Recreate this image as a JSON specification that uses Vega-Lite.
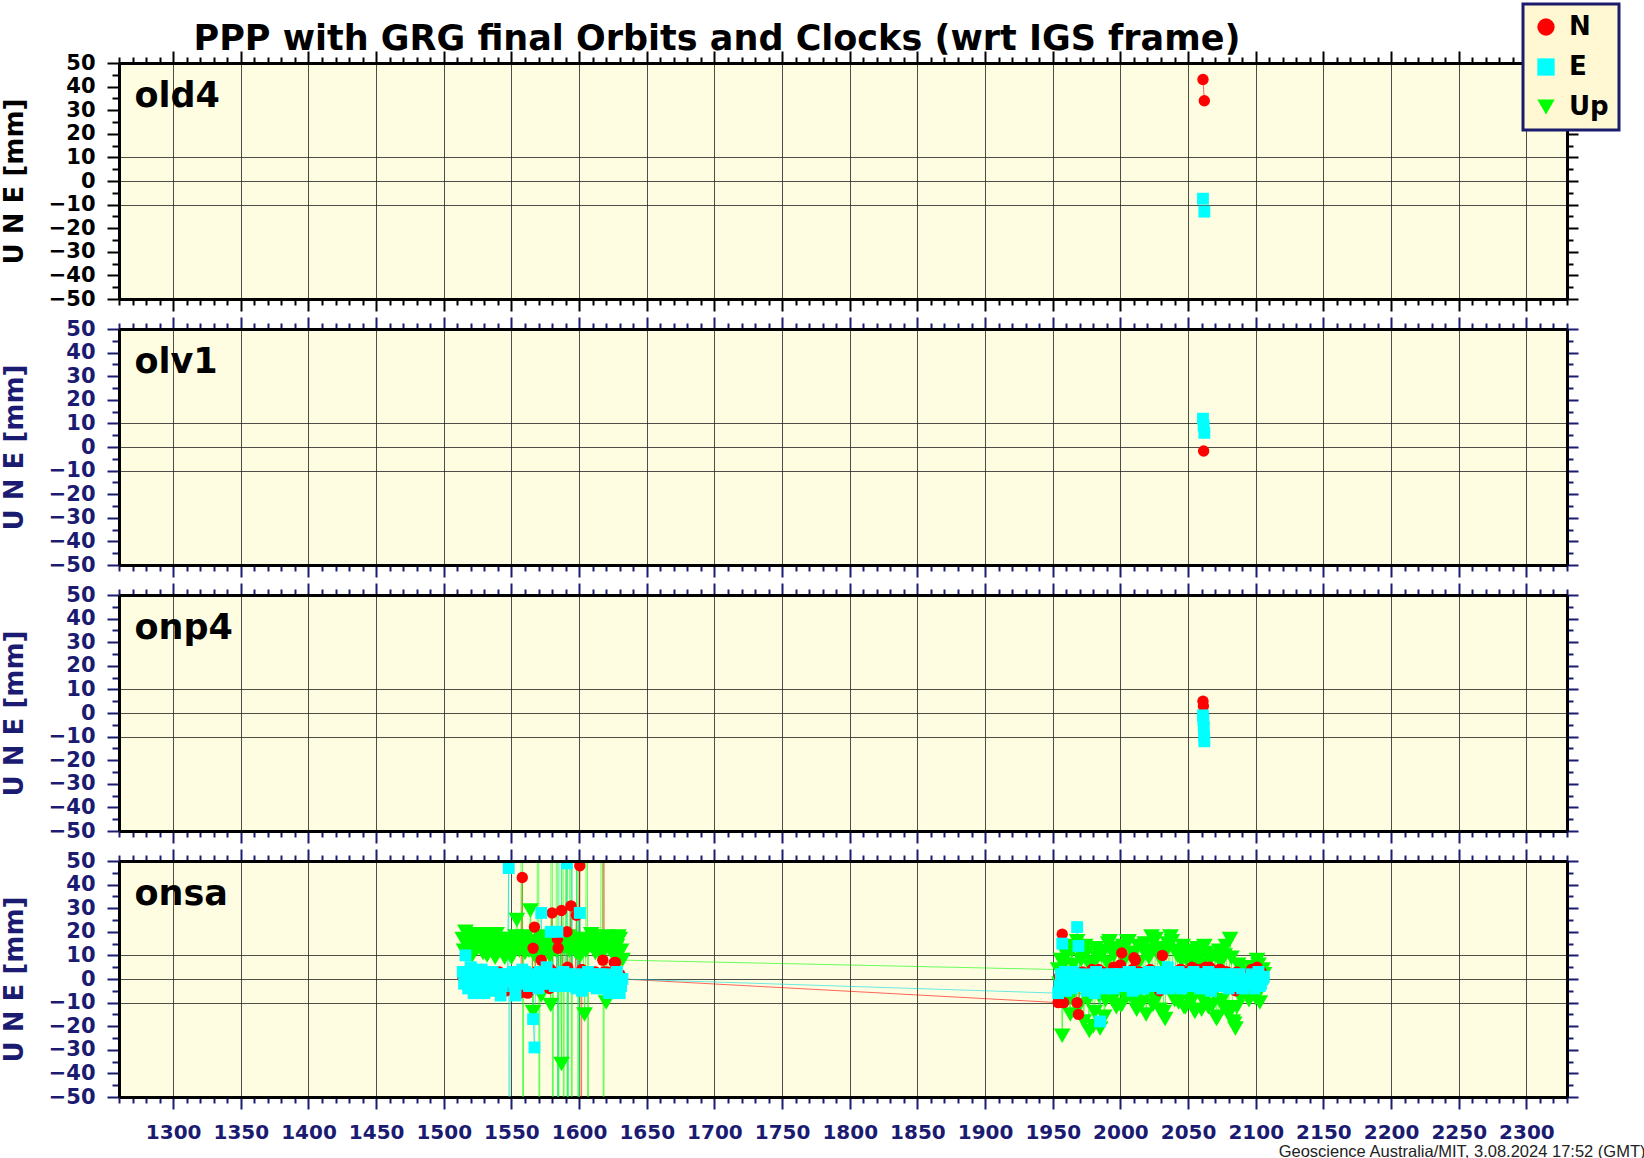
{
"$schema":"https://vega.github.io/schema/vega-lite/v6.json",
"background":"white",
"padding":{"left":0,"top":2,"right":0,"bottom":0},
"datasets":{"d":[
{"s":"old4","w":2061,"N":43,"E":-7.5},
{"s":"old4","w":2062,"N":34,"E":-13},
{"s":"olv1","w":2061,"E":12},
{"s":"olv1","w":2061.5,"N":-1.7,"E":9},
{"s":"olv1","w":2062,"E":6},
{"s":"onp4","w":2061,"N":5,"E":-1},
{"s":"onp4","w":2061.3,"N":3,"E":-3},
{"s":"onp4","w":2061.6,"E":-6},
{"s":"onp4","w":2061.8,"E":-10},
{"s":"onp4","w":2062,"E":-12},
{"s":"onsa","w":1514,"N":1,"E":3,"Up":17},
{"s":"onsa","w":1515,"N":0,"E":-2,"Up":12},
{"s":"onsa","w":1516,"N":-2,"E":10,"Up":20},
{"s":"onsa","w":1517,"N":2,"E":1,"Up":15},
{"s":"onsa","w":1518,"N":2,"E":-4,"Up":14},
{"s":"onsa","w":1519,"N":-3,"E":-1,"Up":19},
{"s":"onsa","w":1520,"N":-1,"E":5,"Up":18},
{"s":"onsa","w":1521,"N":1,"E":3,"Up":10},
{"s":"onsa","w":1522,"N":3,"E":-6,"Up":12},
{"s":"onsa","w":1523,"N":-1,"E":-2,"Up":16},
{"s":"onsa","w":1524,"N":-2,"E":1,"Up":16},
{"s":"onsa","w":1525,"N":3,"E":0,"Up":13},
{"s":"onsa","w":1526,"N":0,"E":-3,"Up":19},
{"s":"onsa","w":1527,"N":-2,"E":-4,"Up":17},
{"s":"onsa","w":1528,"N":4,"E":4,"Up":13},
{"s":"onsa","w":1529,"N":1,"E":2,"Up":11},
{"s":"onsa","w":1530,"N":-4,"E":-6,"Up":15},
{"s":"onsa","w":1531,"N":0,"E":-1,"Up":19},
{"s":"onsa","w":1532,"N":1,"E":0,"Up":10},
{"s":"onsa","w":1533,"N":2,"E":3,"Up":14},
{"s":"onsa","w":1534,"N":-2,"E":-2,"Up":18},
{"s":"onsa","w":1535,"N":-3,"E":-5,"Up":12},
{"s":"onsa","w":1536,"N":3,"E":3,"Up":13},
{"s":"onsa","w":1537,"N":1,"E":1,"Up":16},
{"s":"onsa","w":1538,"N":-1,"E":-4,"Up":9},
{"s":"onsa","w":1539,"N":-2,"E":-2,"Up":19},
{"s":"onsa","w":1540,"N":2,"E":1,"Up":17},
{"s":"onsa","w":1541,"N":3,"E":2,"Up":12},
{"s":"onsa","w":1542,"N":-3,"E":-7,"Up":14},
{"s":"onsa","w":1543,"N":-1,"E":-3,"Up":15},
{"s":"onsa","w":1544,"N":0,"E":2,"Up":11},
{"s":"onsa","w":1545,"N":2,"E":0,"Up":9},
{"s":"onsa","w":1546,"N":-5,"E":-1,"Up":16},
{"s":"onsa","w":1547,"N":-1,"E":2,"Up":17},
{"s":"onsa","w":1548,"N":1,"E":47,"Up":12},
{"s":"onsa","w":1548.5,"N":0,"E":-300,"Up":14},
{"s":"onsa","w":1549,"N":1,"E":-1,"Up":16},
{"s":"onsa","w":1550,"N":-2,"E":2,"Up":9},
{"s":"onsa","w":1551,"N":-3,"E":3,"Up":12},
{"s":"onsa","w":1552,"N":2,"E":-3,"Up":15},
{"s":"onsa","w":1553,"N":0,"E":-7,"Up":18},
{"s":"onsa","w":1554,"N":-1,"E":1,"Up":25},
{"s":"onsa","w":1555,"N":2,"E":0,"Up":14},
{"s":"onsa","w":1556,"N":-6,"E":-2,"Up":12},
{"s":"onsa","w":1557,"N":-1,"E":2,"Up":17},
{"s":"onsa","w":1558,"N":43,"E":4,"Up":300},
{"s":"onsa","w":1558.5,"N":-4,"E":-1,"Up":-300},
{"s":"onsa","w":1559,"N":1,"E":-2,"Up":13},
{"s":"onsa","w":1560,"N":2,"E":3,"Up":11},
{"s":"onsa","w":1561,"N":-2,"E":1,"Up":18},
{"s":"onsa","w":1562,"N":-6,"E":-1,"Up":15},
{"s":"onsa","w":1563,"N":2,"E":-3,"Up":12},
{"s":"onsa","w":1564,"N":1,"E":2,"Up":29},
{"s":"onsa","w":1565,"N":-1,"E":0,"Up":16},
{"s":"onsa","w":1566,"N":13,"E":-17,"Up":-14},
{"s":"onsa","w":1567,"N":22,"E":-29,"Up":10},
{"s":"onsa","w":1568,"N":3,"E":2,"Up":12},
{"s":"onsa","w":1569,"N":0,"E":-1,"Up":15},
{"s":"onsa","w":1570,"N":-1,"E":-4,"Up":300},
{"s":"onsa","w":1570.5,"N":0,"E":1,"Up":-300},
{"s":"onsa","w":1571,"N":2,"E":3,"Up":18},
{"s":"onsa","w":1572,"N":8,"E":28,"Up":-7},
{"s":"onsa","w":1573,"N":-3,"E":-2,"Up":12},
{"s":"onsa","w":1574,"N":-2,"E":1,"Up":13},
{"s":"onsa","w":1575,"N":1,"E":0,"Up":17},
{"s":"onsa","w":1576,"N":2,"E":5,"Up":16},
{"s":"onsa","w":1577,"N":-1,"E":2,"Up":14},
{"s":"onsa","w":1578,"N":-4,"E":-2,"Up":10},
{"s":"onsa","w":1579,"N":4,"E":20,"Up":-11},
{"s":"onsa","w":1580,"N":28,"E":0,"Up":300},
{"s":"onsa","w":1580.5,"N":-3,"E":2,"Up":-300},
{"s":"onsa","w":1581,"N":2,"E":-1,"Up":16},
{"s":"onsa","w":1582,"N":1,"E":-3,"Up":14},
{"s":"onsa","w":1583,"N":-2,"E":1,"Up":12},
{"s":"onsa","w":1584,"N":17,"E":20,"Up":300},
{"s":"onsa","w":1584.5,"N":13,"E":-300,"Up":-300},
{"s":"onsa","w":1585,"N":1,"E":2,"Up":16},
{"s":"onsa","w":1586,"N":2,"E":300,"Up":18},
{"s":"onsa","w":1587,"N":29,"E":1,"Up":-36},
{"s":"onsa","w":1588,"N":-1,"E":-2,"Up":300},
{"s":"onsa","w":1588.5,"N":3,"E":3,"Up":-300},
{"s":"onsa","w":1589,"N":2,"E":0,"Up":13},
{"s":"onsa","w":1590,"N":0,"E":-3,"Up":15},
{"s":"onsa","w":1591,"N":20,"E":49,"Up":300},
{"s":"onsa","w":1591.5,"N":5,"E":-300,"Up":-300},
{"s":"onsa","w":1592,"N":-1,"E":2,"Up":18},
{"s":"onsa","w":1593,"N":2,"E":1,"Up":12},
{"s":"onsa","w":1594,"N":31,"E":-2,"Up":300},
{"s":"onsa","w":1594.5,"N":-3,"E":300,"Up":-300},
{"s":"onsa","w":1595,"N":2,"E":-1,"Up":15},
{"s":"onsa","w":1596,"N":0,"E":2,"Up":17},
{"s":"onsa","w":1597,"N":-1,"E":1,"Up":12},
{"s":"onsa","w":1598,"N":27,"E":-4,"Up":11},
{"s":"onsa","w":1599,"N":1,"E":300,"Up":300},
{"s":"onsa","w":1599.5,"N":-2,"E":-300,"Up":-300},
{"s":"onsa","w":1600.5,"N":48,"E":28,"Up":13},
{"s":"onsa","w":1601,"N":-300,"E":0,"Up":10},
{"s":"onsa","w":1602,"N":4,"E":-5,"Up":16},
{"s":"onsa","w":1603,"N":1,"E":2,"Up":17},
{"s":"onsa","w":1604,"N":-1,"E":1,"Up":-15},
{"s":"onsa","w":1605,"N":-2,"E":-3,"Up":12},
{"s":"onsa","w":1606,"N":2,"E":-2,"Up":300},
{"s":"onsa","w":1606.5,"N":-3,"E":3,"Up":-300},
{"s":"onsa","w":1607,"N":0,"E":1,"Up":16},
{"s":"onsa","w":1608,"N":1,"E":-1,"Up":14},
{"s":"onsa","w":1609,"N":3,"E":-2,"Up":19},
{"s":"onsa","w":1610,"N":-2,"E":2,"Up":18},
{"s":"onsa","w":1611,"N":-1,"E":1,"Up":13},
{"s":"onsa","w":1612,"N":3,"E":-3,"Up":11},
{"s":"onsa","w":1613,"N":2,"E":-4,"Up":16},
{"s":"onsa","w":1614,"N":-1,"E":0,"Up":15},
{"s":"onsa","w":1615,"N":0,"E":2,"Up":11},
{"s":"onsa","w":1616,"N":2,"E":2,"Up":17},
{"s":"onsa","w":1617.5,"N":8,"E":-2,"Up":300},
{"s":"onsa","w":1618,"N":300,"E":1,"Up":-300},
{"s":"onsa","w":1618.5,"N":3,"E":-4,"Up":12},
{"s":"onsa","w":1619,"N":-1,"E":-2,"Up":15},
{"s":"onsa","w":1620,"N":-2,"E":1,"Up":-10},
{"s":"onsa","w":1621,"N":3,"E":0,"Up":18},
{"s":"onsa","w":1622,"N":2,"E":-6,"Up":14},
{"s":"onsa","w":1623,"N":-2,"E":-3,"Up":12},
{"s":"onsa","w":1624,"N":-1,"E":2,"Up":16},
{"s":"onsa","w":1625,"N":1,"E":1,"Up":16},
{"s":"onsa","w":1626,"N":7,"E":-1,"Up":10},
{"s":"onsa","w":1627,"N":7,"E":-2,"Up":13},
{"s":"onsa","w":1628,"N":-3,"E":3,"Up":14},
{"s":"onsa","w":1629,"N":-1,"E":0,"Up":18},
{"s":"onsa","w":1630,"N":2,"E":-6,"Up":17},
{"s":"onsa","w":1631,"N":1,"E":-3,"Up":12},
{"s":"onsa","w":1632,"N":0,"E":0,"Up":8},
{"s":"onsa","w":1954,"N":-10,"E":-6,"Up":4},
{"s":"onsa","w":1955,"N":1,"E":-3,"Up":-2},
{"s":"onsa","w":1956,"N":0,"E":2,"Up":8},
{"s":"onsa","w":1957,"N":19,"E":15,"Up":-24},
{"s":"onsa","w":1958,"N":-10,"E":-2,"Up":6},
{"s":"onsa","w":1959,"N":1,"E":3,"Up":-6},
{"s":"onsa","w":1960,"N":2,"E":-5,"Up":10},
{"s":"onsa","w":1961,"N":-3,"E":-2,"Up":14},
{"s":"onsa","w":1962,"N":-1,"E":1,"Up":-8},
{"s":"onsa","w":1963,"N":2,"E":0,"Up":-15},
{"s":"onsa","w":1964,"N":3,"E":-4,"Up":12},
{"s":"onsa","w":1965,"N":-1,"E":3,"Up":6},
{"s":"onsa","w":1966,"N":-2,"E":2,"Up":-5},
{"s":"onsa","w":1967,"N":3,"E":-3,"Up":-11},
{"s":"onsa","w":1968,"N":-10,"E":22,"Up":16},
{"s":"onsa","w":1969,"N":-15,"E":14,"Up":-12},
{"s":"onsa","w":1970,"N":-2,"E":1,"Up":12},
{"s":"onsa","w":1971,"N":1,"E":-3,"Up":8},
{"s":"onsa","w":1972,"N":3,"E":-2,"Up":-4},
{"s":"onsa","w":1973,"N":-3,"E":0,"Up":-18},
{"s":"onsa","w":1974,"N":-1,"E":2,"Up":14},
{"s":"onsa","w":1975,"N":2,"E":-5,"Up":11},
{"s":"onsa","w":1976,"N":2,"E":-4,"Up":-9},
{"s":"onsa","w":1977,"N":-1,"E":1,"Up":-22},
{"s":"onsa","w":1978,"N":-3,"E":1,"Up":5},
{"s":"onsa","w":1979,"N":4,"E":-2,"Up":7},
{"s":"onsa","w":1980,"N":1,"E":-2,"Up":-20},
{"s":"onsa","w":1981,"N":-6,"E":-6,"Up":-14},
{"s":"onsa","w":1982,"N":-2,"E":3,"Up":13},
{"s":"onsa","w":1983,"N":1,"E":0,"Up":9},
{"s":"onsa","w":1984,"N":4,"E":-1,"Up":-7},
{"s":"onsa","w":1985,"N":-2,"E":-18,"Up":-21},
{"s":"onsa","w":1986,"N":0,"E":2,"Up":10},
{"s":"onsa","w":1987,"N":3,"E":-3,"Up":12},
{"s":"onsa","w":1988,"N":-3,"E":-4,"Up":-16},
{"s":"onsa","w":1989,"N":-4,"E":1,"Up":-9},
{"s":"onsa","w":1990,"N":2,"E":1,"Up":7},
{"s":"onsa","w":1991,"N":2,"E":-2,"Up":15},
{"s":"onsa","w":1992,"N":-1,"E":-2,"Up":16},
{"s":"onsa","w":1993,"N":-1,"E":2,"Up":-6},
{"s":"onsa","w":1994,"N":3,"E":2,"Up":-9},
{"s":"onsa","w":1995,"N":5,"E":-4,"Up":10},
{"s":"onsa","w":1996,"N":-2,"E":-3,"Up":12},
{"s":"onsa","w":1997,"N":-2,"E":0,"Up":-12},
{"s":"onsa","w":1998,"N":1,"E":0,"Up":-4},
{"s":"onsa","w":1999,"N":3,"E":2,"Up":13},
{"s":"onsa","w":2000,"N":6,"E":2,"Up":-11},
{"s":"onsa","w":2001,"N":11,"E":-3,"Up":-11},
{"s":"onsa","w":2002,"N":-1,"E":-2,"Up":14},
{"s":"onsa","w":2003,"N":-3,"E":1,"Up":8},
{"s":"onsa","w":2004,"N":2,"E":1,"Up":-8},
{"s":"onsa","w":2005,"N":2,"E":-2,"Up":16},
{"s":"onsa","w":2006,"N":-3,"E":3,"Up":16},
{"s":"onsa","w":2007,"N":-1,"E":3,"Up":-7},
{"s":"onsa","w":2008,"N":1,"E":-3,"Up":-3},
{"s":"onsa","w":2009,"N":4,"E":-5,"Up":11},
{"s":"onsa","w":2010,"N":9,"E":0,"Up":11},
{"s":"onsa","w":2011,"N":8,"E":1,"Up":-10},
{"s":"onsa","w":2012,"N":-2,"E":2,"Up":-13},
{"s":"onsa","w":2013,"N":-2,"E":-2,"Up":14},
{"s":"onsa","w":2014,"N":3,"E":-1,"Up":7},
{"s":"onsa","w":2015,"N":1,"E":2,"Up":-5},
{"s":"onsa","w":2016,"N":-1,"E":-4,"Up":-10},
{"s":"onsa","w":2017,"N":-4,"E":-4,"Up":12},
{"s":"onsa","w":2018,"N":2,"E":2,"Up":15},
{"s":"onsa","w":2019,"N":2,"E":0,"Up":-15},
{"s":"onsa","w":2020,"N":-2,"E":-1,"Up":-5},
{"s":"onsa","w":2021,"N":-1,"E":3,"Up":9},
{"s":"onsa","w":2022,"N":4,"E":1,"Up":12},
{"s":"onsa","w":2023,"N":3,"E":-3,"Up":18},
{"s":"onsa","w":2024,"N":0,"E":-3,"Up":-11},
{"s":"onsa","w":2025,"N":-2,"E":1,"Up":-8},
{"s":"onsa","w":2026,"N":-3,"E":2,"Up":17},
{"s":"onsa","w":2027,"N":2,"E":-2,"Up":13},
{"s":"onsa","w":2028,"N":2,"E":-2,"Up":-7},
{"s":"onsa","w":2029,"N":-5,"E":2,"Up":-13},
{"s":"onsa","w":2030,"N":1,"E":3,"Up":8},
{"s":"onsa","w":2031,"N":10,"E":-4,"Up":10},
{"s":"onsa","w":2032,"N":-2,"E":-1,"Up":-14},
{"s":"onsa","w":2033,"N":1,"E":0,"Up":-17},
{"s":"onsa","w":2034,"N":3,"E":2,"Up":12},
{"s":"onsa","w":2035,"N":-2,"E":5,"Up":15},
{"s":"onsa","w":2036,"N":-1,"E":-4,"Up":-4},
{"s":"onsa","w":2037,"N":3,"E":-3,"Up":18},
{"s":"onsa","w":2038,"N":2,"E":1,"Up":16},
{"s":"onsa","w":2039,"N":-1,"E":1,"Up":-6},
{"s":"onsa","w":2040,"N":-3,"E":-2,"Up":-9},
{"s":"onsa","w":2041,"N":2,"E":-2,"Up":12},
{"s":"onsa","w":2042,"N":1,"E":3,"Up":10},
{"s":"onsa","w":2043,"N":-3,"E":3,"Up":-10},
{"s":"onsa","w":2044,"N":4,"E":-1,"Up":-6},
{"s":"onsa","w":2045,"N":4,"E":-4,"Up":8},
{"s":"onsa","w":2046,"N":-2,"E":2,"Up":14},
{"s":"onsa","w":2047,"N":0,"E":1,"Up":-12},
{"s":"onsa","w":2048,"N":2,"E":-3,"Up":-12},
{"s":"onsa","w":2049,"N":3,"E":-1,"Up":11},
{"s":"onsa","w":2050,"N":0,"E":1,"Up":7},
{"s":"onsa","w":2051,"N":-2,"E":2,"Up":-7},
{"s":"onsa","w":2052,"N":3,"E":-2,"Up":-10},
{"s":"onsa","w":2053,"N":5,"E":-3,"Up":9},
{"s":"onsa","w":2054,"N":-2,"E":3,"Up":12},
{"s":"onsa","w":2055,"N":1,"E":0,"Up":-14},
{"s":"onsa","w":2056,"N":4,"E":-1,"Up":-5},
{"s":"onsa","w":2057,"N":-3,"E":2,"Up":13},
{"s":"onsa","w":2058,"N":1,"E":2,"Up":9},
{"s":"onsa","w":2059,"N":4,"E":-4,"Up":6},
{"s":"onsa","w":2060,"N":-2,"E":-3,"Up":-13},
{"s":"onsa","w":2061,"N":0,"E":1,"Up":-9},
{"s":"onsa","w":2062,"N":3,"E":0,"Up":14},
{"s":"onsa","w":2063,"N":5,"E":-2,"Up":11},
{"s":"onsa","w":2064,"N":0,"E":2,"Up":-7},
{"s":"onsa","w":2065,"N":-1,"E":3,"Up":-12},
{"s":"onsa","w":2066,"N":5,"E":-2,"Up":8},
{"s":"onsa","w":2067,"N":4,"E":-5,"Up":9},
{"s":"onsa","w":2068,"N":-2,"E":1,"Up":-11},
{"s":"onsa","w":2069,"N":2,"E":0,"Up":-6},
{"s":"onsa","w":2070,"N":3,"E":-3,"Up":10},
{"s":"onsa","w":2071,"N":-3,"E":2,"Up":-17},
{"s":"onsa","w":2072,"N":1,"E":2,"Up":-16},
{"s":"onsa","w":2073,"N":4,"E":-3,"Up":12},
{"s":"onsa","w":2074,"N":4,"E":-1,"Up":7},
{"s":"onsa","w":2075,"N":1,"E":1,"Up":-9},
{"s":"onsa","w":2076,"N":-1,"E":0,"Up":-12},
{"s":"onsa","w":2077,"N":-2,"E":-2,"Up":10},
{"s":"onsa","w":2078,"N":3,"E":2,"Up":14},
{"s":"onsa","w":2079,"N":3,"E":2,"Up":-13},
{"s":"onsa","w":2080,"N":0,"E":-4,"Up":-15},
{"s":"onsa","w":2081,"N":-1,"E":-3,"Up":17},
{"s":"onsa","w":2082,"N":2,"E":1,"Up":9},
{"s":"onsa","w":2083,"N":2,"E":0,"Up":-18},
{"s":"onsa","w":2084,"N":-2,"E":-2,"Up":-19},
{"s":"onsa","w":2085,"N":-5,"E":2,"Up":-21},
{"s":"onsa","w":2086,"N":3,"E":0,"Up":-12},
{"s":"onsa","w":2087,"N":1,"E":-3,"Up":6},
{"s":"onsa","w":2088,"N":-1,"E":2,"Up":5},
{"s":"onsa","w":2089,"N":-2,"E":0,"Up":-8},
{"s":"onsa","w":2090,"N":0,"E":-4,"Up":3},
{"s":"onsa","w":2095,"N":2,"E":-1,"Up":-9},
{"s":"onsa","w":2096,"N":3,"E":-2,"Up":2},
{"s":"onsa","w":2097,"N":4,"E":2,"Up":5},
{"s":"onsa","w":2098,"N":-2,"E":1,"Up":-3},
{"s":"onsa","w":2099,"N":0,"E":-4,"Up":-6},
{"s":"onsa","w":2100,"N":4,"E":-1,"Up":-8},
{"s":"onsa","w":2101,"N":5,"E":1,"Up":8},
{"s":"onsa","w":2102,"N":1,"E":3,"Up":6},
{"s":"onsa","w":2103,"N":-1,"E":-3,"Up":-10},
{"s":"onsa","w":2104,"N":3,"E":-2,"Up":-4},
{"s":"onsa","w":2105,"N":2,"E":0,"Up":4},
{"s":"onsa","w":2106,"N":0,"E":1,"Up":2}
]},
"spacing":30,
"bounds":"flush",
"vconcat":[
{"width":1448,"height":236,
 "data":{"name":"d"},
 "transform":[{"filter":"datum.s === 'old4'"},{"fold":["N","E","Up"],"as":["comp","val"]},{"filter":"isValid(datum.val)"}],
 "resolve":{"axis":{"x":"independent","y":"independent"}},
 "layer":[
  {"mark":{"type":"line","clip":true,"strokeWidth":1,"opacity":0.6},
   "encoding":{
    "x":{"field":"w","type":"quantitative","scale":{"domain":[1260,2330],"nice":false,"zero":false},
     "axis":{"orient":"bottom","values":[1260,1270,1280,1290,1300,1310,1320,1330,1340,1350,1360,1370,1380,1390,1400,1410,1420,1430,1440,1450,1460,1470,1480,1490,1500,1510,1520,1530,1540,1550,1560,1570,1580,1590,1600,1610,1620,1630,1640,1650,1660,1670,1680,1690,1700,1710,1720,1730,1740,1750,1760,1770,1780,1790,1800,1810,1820,1830,1840,1850,1860,1870,1880,1890,1900,1910,1920,1930,1940,1950,1960,1970,1980,1990,2000,2010,2020,2030,2040,2050,2060,2070,2080,2090,2100,2110,2120,2130,2140,2150,2160,2170,2180,2190,2200,2210,2220,2230,2240,2250,2260,2270,2280,2290,2300,2310,2320,2330],
      "title":null,"labels":false,"tickColor":"black",
      "tickSize":{"condition":{"test":"datum.value % 50 === 0","value":12},"value":6},
      "grid":true,"gridOpacity":{"condition":{"test":"datum.value % 50 === 0","value":0.8},"value":0},
      "domain":true}},
    "y":{"field":"val","type":"quantitative","scale":{"domain":[-50,50],"nice":false},
     "axis":{"orient":"left","values":[-50,-45,-40,-35,-30,-25,-20,-15,-10,-5,0,5,10,15,20,25,30,35,40,45,50],
      "title":"U N E [mm]","titleX":-105,"titleBaseline":"middle","titleColor":"black",
      "labelExpr":"datum.value % 10 === 0 ? datum.label : ''","labelColor":"black","labelPadding":12,
      "tickColor":"black","tickSize":{"condition":{"test":"datum.value % 10 === 0","value":12},"value":7},
      "grid":true,"gridOpacity":{"condition":{"test":"abs(datum.value) <= 10 && datum.value % 10 === 0","value":0.8},"value":0},
      "domain":true}},
    "stroke":{"field":"comp","type":"nominal","scale":{"domain":["Up","N","E"],"range":["#00ff00","#ff0000","#00dddd"]},"legend":null}
   }},
  {"mark":{"type":"point","filled":true,"clip":true,"opacity":1},
   "encoding":{
    "x":{"field":"w","type":"quantitative",
     "axis":{"orient":"top","values":[1260,1270,1280,1290,1300,1310,1320,1330,1340,1350,1360,1370,1380,1390,1400,1410,1420,1430,1440,1450,1460,1470,1480,1490,1500,1510,1520,1530,1540,1550,1560,1570,1580,1590,1600,1610,1620,1630,1640,1650,1660,1670,1680,1690,1700,1710,1720,1730,1740,1750,1760,1770,1780,1790,1800,1810,1820,1830,1840,1850,1860,1870,1880,1890,1900,1910,1920,1930,1940,1950,1960,1970,1980,1990,2000,2010,2020,2030,2040,2050,2060,2070,2080,2090,2100,2110,2120,2130,2140,2150,2160,2170,2180,2190,2200,2210,2220,2230,2240,2250,2260,2270,2280,2290,2300,2310,2320,2330],
      "title":"PPP with GRG final Orbits and Clocks (wrt IGS frame)","titleX":74,"titleY":-14,"titleAlign":"left","titleAngle":0,"titleBaseline":"alphabetic","titleFontSize":35,"titleColor":"black",
      "labels":false,"grid":false,"tickColor":"black",
      "tickSize":{"condition":{"test":"datum.value % 50 === 0","value":12},"value":6},"domain":true,"zindex":1}},
    "y":{"field":"val","type":"quantitative",
     "axis":{"orient":"right","values":[-50,-45,-40,-35,-30,-25,-20,-15,-10,-5,0,5,10,15,20,25,30,35,40,45,50],
      "title":"old4","titleX":-1433,"titleY":43,"titleAngle":0,"titleAlign":"left","titleBaseline":"alphabetic","titleFontSize":35,"titleColor":"black",
      "labels":false,"grid":false,"tickColor":"black",
      "tickSize":{"condition":{"test":"datum.value % 10 === 0","value":11},"value":6},"domain":true,"zindex":1}},
    "color":{"field":"comp","type":"nominal","scale":{"domain":["N","E","Up"],"range":["#ff0000","#00ffff","#00ff00"]},"legend":{"title":null,"orient":"none","legendX":1404,"legendY":-59,"zindex":3}},
    "shape":{"field":"comp","type":"nominal","scale":{"domain":["N","E","Up"],"range":["circle","square","triangle-down"]},"legend":{"title":null,"orient":"none","legendX":1404,"legendY":-59,"zindex":3}},
    "size":{"field":"comp","type":"nominal","scale":{"type":"ordinal","domain":["Up","E","N"],"range":[280,140,130]},"legend":null},
    "order":{"field":"comp","sort":"descending"}
   }}
 ]},
{"width":1448,"height":236,
 "data":{"name":"d"},
 "transform":[{"filter":"datum.s === 'olv1'"},{"fold":["N","E","Up"],"as":["comp","val"]},{"filter":"isValid(datum.val)"}],
 "resolve":{"axis":{"x":"independent","y":"independent"}},
 "layer":[
  {"mark":{"type":"line","clip":true,"strokeWidth":1,"opacity":0.6},
   "encoding":{
    "x":{"field":"w","type":"quantitative","scale":{"domain":[1260,2330],"nice":false,"zero":false},
     "axis":{"orient":"bottom","values":[1260,1270,1280,1290,1300,1310,1320,1330,1340,1350,1360,1370,1380,1390,1400,1410,1420,1430,1440,1450,1460,1470,1480,1490,1500,1510,1520,1530,1540,1550,1560,1570,1580,1590,1600,1610,1620,1630,1640,1650,1660,1670,1680,1690,1700,1710,1720,1730,1740,1750,1760,1770,1780,1790,1800,1810,1820,1830,1840,1850,1860,1870,1880,1890,1900,1910,1920,1930,1940,1950,1960,1970,1980,1990,2000,2010,2020,2030,2040,2050,2060,2070,2080,2090,2100,2110,2120,2130,2140,2150,2160,2170,2180,2190,2200,2210,2220,2230,2240,2250,2260,2270,2280,2290,2300,2310,2320,2330],
      "title":null,"labels":false,"tickColor":"#1b1b72",
      "tickSize":{"condition":{"test":"datum.value % 50 === 0","value":12},"value":6},
      "grid":true,"gridOpacity":{"condition":{"test":"datum.value % 50 === 0","value":0.8},"value":0},
      "domain":true}},
    "y":{"field":"val","type":"quantitative","scale":{"domain":[-50,50],"nice":false},
     "axis":{"orient":"left","values":[-50,-45,-40,-35,-30,-25,-20,-15,-10,-5,0,5,10,15,20,25,30,35,40,45,50],
      "title":"U N E [mm]","titleX":-105,"titleBaseline":"middle","titleColor":"#1b1b72",
      "labelExpr":"datum.value % 10 === 0 ? datum.label : ''","labelColor":"#1b1b72","labelPadding":12,
      "tickColor":"#1b1b72","tickSize":{"condition":{"test":"datum.value % 10 === 0","value":12},"value":7},
      "grid":true,"gridOpacity":{"condition":{"test":"abs(datum.value) <= 10 && datum.value % 10 === 0","value":0.8},"value":0},
      "domain":true}},
    "stroke":{"field":"comp","type":"nominal","scale":{"domain":["Up","N","E"],"range":["#00ff00","#ff0000","#00dddd"]},"legend":null}
   }},
  {"mark":{"type":"point","filled":true,"clip":true,"opacity":1},
   "encoding":{
    "x":{"field":"w","type":"quantitative",
     "axis":{"orient":"top","values":[1260,1270,1280,1290,1300,1310,1320,1330,1340,1350,1360,1370,1380,1390,1400,1410,1420,1430,1440,1450,1460,1470,1480,1490,1500,1510,1520,1530,1540,1550,1560,1570,1580,1590,1600,1610,1620,1630,1640,1650,1660,1670,1680,1690,1700,1710,1720,1730,1740,1750,1760,1770,1780,1790,1800,1810,1820,1830,1840,1850,1860,1870,1880,1890,1900,1910,1920,1930,1940,1950,1960,1970,1980,1990,2000,2010,2020,2030,2040,2050,2060,2070,2080,2090,2100,2110,2120,2130,2140,2150,2160,2170,2180,2190,2200,2210,2220,2230,2240,2250,2260,2270,2280,2290,2300,2310,2320,2330],
      "title":null,"labels":false,"grid":false,"tickColor":"#1b1b72",
      "tickSize":{"condition":{"test":"datum.value % 50 === 0","value":12},"value":6},"domain":true,"zindex":1}},
    "y":{"field":"val","type":"quantitative",
     "axis":{"orient":"right","values":[-50,-45,-40,-35,-30,-25,-20,-15,-10,-5,0,5,10,15,20,25,30,35,40,45,50],
      "title":"olv1","titleX":-1433,"titleY":43,"titleAngle":0,"titleAlign":"left","titleBaseline":"alphabetic","titleFontSize":35,"titleColor":"black",
      "labels":false,"grid":false,"tickColor":"#1b1b72",
      "tickSize":{"condition":{"test":"datum.value % 10 === 0","value":11},"value":6},"domain":true,"zindex":1}},
    "color":{"field":"comp","type":"nominal","scale":{"domain":["N","E","Up"],"range":["#ff0000","#00ffff","#00ff00"]},"legend":{"title":null,"orient":"none","legendX":1404,"legendY":-59,"zindex":3}},
    "shape":{"field":"comp","type":"nominal","scale":{"domain":["N","E","Up"],"range":["circle","square","triangle-down"]},"legend":{"title":null,"orient":"none","legendX":1404,"legendY":-59,"zindex":3}},
    "size":{"field":"comp","type":"nominal","scale":{"type":"ordinal","domain":["Up","E","N"],"range":[280,140,130]},"legend":null},
    "order":{"field":"comp","sort":"descending"}
   }}
 ]},
{"width":1448,"height":236,
 "data":{"name":"d"},
 "transform":[{"filter":"datum.s === 'onp4'"},{"fold":["N","E","Up"],"as":["comp","val"]},{"filter":"isValid(datum.val)"}],
 "resolve":{"axis":{"x":"independent","y":"independent"}},
 "layer":[
  {"mark":{"type":"line","clip":true,"strokeWidth":1,"opacity":0.6},
   "encoding":{
    "x":{"field":"w","type":"quantitative","scale":{"domain":[1260,2330],"nice":false,"zero":false},
     "axis":{"orient":"bottom","values":[1260,1270,1280,1290,1300,1310,1320,1330,1340,1350,1360,1370,1380,1390,1400,1410,1420,1430,1440,1450,1460,1470,1480,1490,1500,1510,1520,1530,1540,1550,1560,1570,1580,1590,1600,1610,1620,1630,1640,1650,1660,1670,1680,1690,1700,1710,1720,1730,1740,1750,1760,1770,1780,1790,1800,1810,1820,1830,1840,1850,1860,1870,1880,1890,1900,1910,1920,1930,1940,1950,1960,1970,1980,1990,2000,2010,2020,2030,2040,2050,2060,2070,2080,2090,2100,2110,2120,2130,2140,2150,2160,2170,2180,2190,2200,2210,2220,2230,2240,2250,2260,2270,2280,2290,2300,2310,2320,2330],
      "title":null,"labels":false,"tickColor":"#1b1b72",
      "tickSize":{"condition":{"test":"datum.value % 50 === 0","value":12},"value":6},
      "grid":true,"gridOpacity":{"condition":{"test":"datum.value % 50 === 0","value":0.8},"value":0},
      "domain":true}},
    "y":{"field":"val","type":"quantitative","scale":{"domain":[-50,50],"nice":false},
     "axis":{"orient":"left","values":[-50,-45,-40,-35,-30,-25,-20,-15,-10,-5,0,5,10,15,20,25,30,35,40,45,50],
      "title":"U N E [mm]","titleX":-105,"titleBaseline":"middle","titleColor":"#1b1b72",
      "labelExpr":"datum.value % 10 === 0 ? datum.label : ''","labelColor":"#1b1b72","labelPadding":12,
      "tickColor":"#1b1b72","tickSize":{"condition":{"test":"datum.value % 10 === 0","value":12},"value":7},
      "grid":true,"gridOpacity":{"condition":{"test":"abs(datum.value) <= 10 && datum.value % 10 === 0","value":0.8},"value":0},
      "domain":true}},
    "stroke":{"field":"comp","type":"nominal","scale":{"domain":["Up","N","E"],"range":["#00ff00","#ff0000","#00dddd"]},"legend":null}
   }},
  {"mark":{"type":"point","filled":true,"clip":true,"opacity":1},
   "encoding":{
    "x":{"field":"w","type":"quantitative",
     "axis":{"orient":"top","values":[1260,1270,1280,1290,1300,1310,1320,1330,1340,1350,1360,1370,1380,1390,1400,1410,1420,1430,1440,1450,1460,1470,1480,1490,1500,1510,1520,1530,1540,1550,1560,1570,1580,1590,1600,1610,1620,1630,1640,1650,1660,1670,1680,1690,1700,1710,1720,1730,1740,1750,1760,1770,1780,1790,1800,1810,1820,1830,1840,1850,1860,1870,1880,1890,1900,1910,1920,1930,1940,1950,1960,1970,1980,1990,2000,2010,2020,2030,2040,2050,2060,2070,2080,2090,2100,2110,2120,2130,2140,2150,2160,2170,2180,2190,2200,2210,2220,2230,2240,2250,2260,2270,2280,2290,2300,2310,2320,2330],
      "title":null,"labels":false,"grid":false,"tickColor":"#1b1b72",
      "tickSize":{"condition":{"test":"datum.value % 50 === 0","value":12},"value":6},"domain":true,"zindex":1}},
    "y":{"field":"val","type":"quantitative",
     "axis":{"orient":"right","values":[-50,-45,-40,-35,-30,-25,-20,-15,-10,-5,0,5,10,15,20,25,30,35,40,45,50],
      "title":"onp4","titleX":-1433,"titleY":43,"titleAngle":0,"titleAlign":"left","titleBaseline":"alphabetic","titleFontSize":35,"titleColor":"black",
      "labels":false,"grid":false,"tickColor":"#1b1b72",
      "tickSize":{"condition":{"test":"datum.value % 10 === 0","value":11},"value":6},"domain":true,"zindex":1}},
    "color":{"field":"comp","type":"nominal","scale":{"domain":["N","E","Up"],"range":["#ff0000","#00ffff","#00ff00"]},"legend":{"title":null,"orient":"none","legendX":1404,"legendY":-59,"zindex":3}},
    "shape":{"field":"comp","type":"nominal","scale":{"domain":["N","E","Up"],"range":["circle","square","triangle-down"]},"legend":{"title":null,"orient":"none","legendX":1404,"legendY":-59,"zindex":3}},
    "size":{"field":"comp","type":"nominal","scale":{"type":"ordinal","domain":["Up","E","N"],"range":[280,140,130]},"legend":null},
    "order":{"field":"comp","sort":"descending"}
   }}
 ]},
{"width":1448,"height":236,
 "data":{"name":"d"},
 "transform":[{"filter":"datum.s === 'onsa'"},{"fold":["N","E","Up"],"as":["comp","val"]},{"filter":"isValid(datum.val)"}],
 "resolve":{"axis":{"x":"independent","y":"independent"}},
 "layer":[
  {"mark":{"type":"line","clip":true,"strokeWidth":1,"opacity":0.6},
   "encoding":{
    "x":{"field":"w","type":"quantitative","scale":{"domain":[1260,2330],"nice":false,"zero":false},
     "axis":{"orient":"bottom","values":[1260,1270,1280,1290,1300,1310,1320,1330,1340,1350,1360,1370,1380,1390,1400,1410,1420,1430,1440,1450,1460,1470,1480,1490,1500,1510,1520,1530,1540,1550,1560,1570,1580,1590,1600,1610,1620,1630,1640,1650,1660,1670,1680,1690,1700,1710,1720,1730,1740,1750,1760,1770,1780,1790,1800,1810,1820,1830,1840,1850,1860,1870,1880,1890,1900,1910,1920,1930,1940,1950,1960,1970,1980,1990,2000,2010,2020,2030,2040,2050,2060,2070,2080,2090,2100,2110,2120,2130,2140,2150,2160,2170,2180,2190,2200,2210,2220,2230,2240,2250,2260,2270,2280,2290,2300,2310,2320,2330],
      "title":"Geoscience Australia/MIT, 3.08.2024 17:52 (GMT)","titleX":1526,"titleY":59,"titleAlign":"right","titleAngle":0,"titleBaseline":"alphabetic","titleFont":"Liberation Sans","titleFontWeight":"normal","titleFontSize":16.5,"titleColor":"#222222",
      "format":"d","labelExpr":"datum.value % 50 === 0 ? datum.label : ''","labelColor":"#1b1b72","labelPadding":13,
      "tickColor":"#1b1b72",
      "tickSize":{"condition":{"test":"datum.value % 50 === 0","value":12},"value":6},
      "grid":true,"gridOpacity":{"condition":{"test":"datum.value % 50 === 0","value":0.8},"value":0},
      "domain":true}},
    "y":{"field":"val","type":"quantitative","scale":{"domain":[-50,50],"nice":false},
     "axis":{"orient":"left","values":[-50,-45,-40,-35,-30,-25,-20,-15,-10,-5,0,5,10,15,20,25,30,35,40,45,50],
      "title":"U N E [mm]","titleX":-105,"titleBaseline":"middle","titleColor":"#1b1b72",
      "labelExpr":"datum.value % 10 === 0 ? datum.label : ''","labelColor":"#1b1b72","labelPadding":12,
      "tickColor":"#1b1b72","tickSize":{"condition":{"test":"datum.value % 10 === 0","value":12},"value":7},
      "grid":true,"gridOpacity":{"condition":{"test":"abs(datum.value) <= 10 && datum.value % 10 === 0","value":0.8},"value":0},
      "domain":true}},
    "stroke":{"field":"comp","type":"nominal","scale":{"domain":["Up","N","E"],"range":["#00ff00","#ff0000","#00dddd"]},"legend":null}
   }},
  {"mark":{"type":"point","filled":true,"clip":true,"opacity":1},
   "encoding":{
    "x":{"field":"w","type":"quantitative",
     "axis":{"orient":"top","values":[1260,1270,1280,1290,1300,1310,1320,1330,1340,1350,1360,1370,1380,1390,1400,1410,1420,1430,1440,1450,1460,1470,1480,1490,1500,1510,1520,1530,1540,1550,1560,1570,1580,1590,1600,1610,1620,1630,1640,1650,1660,1670,1680,1690,1700,1710,1720,1730,1740,1750,1760,1770,1780,1790,1800,1810,1820,1830,1840,1850,1860,1870,1880,1890,1900,1910,1920,1930,1940,1950,1960,1970,1980,1990,2000,2010,2020,2030,2040,2050,2060,2070,2080,2090,2100,2110,2120,2130,2140,2150,2160,2170,2180,2190,2200,2210,2220,2230,2240,2250,2260,2270,2280,2290,2300,2310,2320,2330],
      "title":null,"labels":false,"grid":false,"tickColor":"#1b1b72",
      "tickSize":{"condition":{"test":"datum.value % 50 === 0","value":12},"value":6},"domain":true,"zindex":1}},
    "y":{"field":"val","type":"quantitative",
     "axis":{"orient":"right","values":[-50,-45,-40,-35,-30,-25,-20,-15,-10,-5,0,5,10,15,20,25,30,35,40,45,50],
      "title":"onsa","titleX":-1433,"titleY":43,"titleAngle":0,"titleAlign":"left","titleBaseline":"alphabetic","titleFontSize":35,"titleColor":"black",
      "labels":false,"grid":false,"tickColor":"#1b1b72",
      "tickSize":{"condition":{"test":"datum.value % 10 === 0","value":11},"value":6},"domain":true,"zindex":1}},
    "color":{"field":"comp","type":"nominal","scale":{"domain":["N","E","Up"],"range":["#ff0000","#00ffff","#00ff00"]},"legend":{"title":null,"orient":"none","legendX":1404,"legendY":-59,"zindex":3}},
    "shape":{"field":"comp","type":"nominal","scale":{"domain":["N","E","Up"],"range":["circle","square","triangle-down"]},"legend":{"title":null,"orient":"none","legendX":1404,"legendY":-59,"zindex":3}},
    "size":{"field":"comp","type":"nominal","scale":{"type":"ordinal","domain":["Up","E","N"],"range":[280,140,130]},"legend":null},
    "order":{"field":"comp","sort":"descending"}
   }}
 ]}
],
"config":{
 "view":{"fill":"#fffde1","stroke":null},
 "axis":{"labelFont":"DejaVu Sans","labelFontWeight":"bold","titleFont":"DejaVu Sans","titleFontWeight":"bold","titleFontSize":26,"labelFlush":false,"labelOverlap":false,"labelBound":false,"tickWidth":2,"domainWidth":3,"domainColor":"black","gridColor":"#222222","gridWidth":1},
 "axisX":{"labelFontSize":20},
 "axisY":{"labelFontSize":21},
 "legend":{"padding":10,"fillColor":"#fff8d2","strokeColor":"#1c1c6e","strokeWidth":3,"labelFont":"DejaVu Sans","labelFontSize":26,"labelFontWeight":"bold","labelColor":"black","symbolSize":300,"rowPadding":14,"labelOffset":10,"symbolStrokeWidth":0}
}
}
